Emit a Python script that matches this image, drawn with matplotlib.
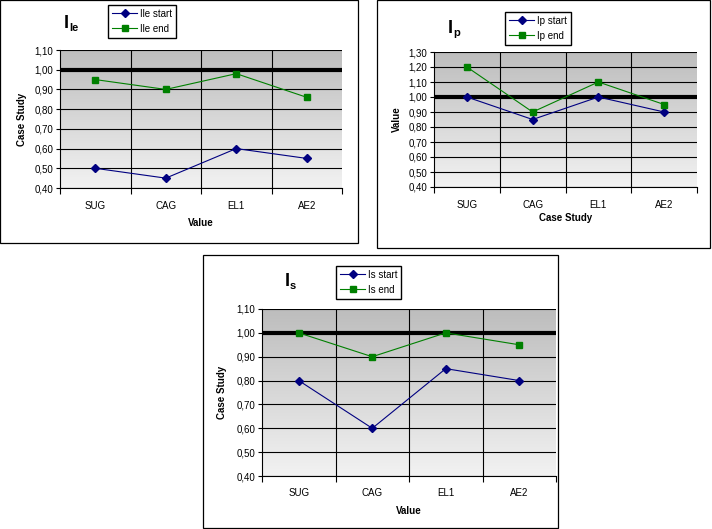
import numpy as np
import matplotlib
matplotlib.use("Agg")
import matplotlib.pyplot as plt
from matplotlib.colors import LinearSegmentedColormap
from matplotlib.patches import Rectangle
from matplotlib.ticker import FuncFormatter, FixedLocator

plt.rcParams["font.family"] = ["Liberation Sans", "DejaVu Sans"]

categories = ["SUG", "CAG", "EL1", "AE2"]

ile_start = [0.50, 0.45, 0.60, 0.55]
ile_end = [0.95, 0.90, 0.98, 0.86]

ip_start = [1.00, 0.85, 1.00, 0.90]
ip_end = [1.20, 0.90, 1.10, 0.95]

is_start = [0.80, 0.60, 0.85, 0.80]
is_end = [1.00, 0.90, 1.00, 0.95]

W, H = 712, 529
fig = plt.figure(figsize=(W / 100, H / 100), dpi=100)
fig.patch.set_facecolor("white")

grad = LinearSegmentedColormap.from_list("g", ["#bdbdbd", "#f2f2f2"])


def rect(x0, y0, x1, y1):
    return [x0 / W, 1 - y1 / H, (x1 - x0) / W, (y1 - y0) / H]


def panel(border, plot, ymax, sub, start, end, xlabel, ylabel,
          title_xy, legend_xy, xl_y, yl_x):
    bx0, by0, bx1, by1 = border
    fig.patches.append(Rectangle((bx0 / W, 1 - by1 / H), (bx1 - bx0) / W,
                                 (by1 - by0) / H, transform=fig.transFigure,
                                 fill=False, edgecolor="black", lw=0.9))
    ax = fig.add_axes(rect(*plot))
    ymin = 0.40
    x = np.arange(len(categories))
    ax.imshow(np.linspace(0, 1, 256).reshape(-1, 1), cmap=grad,
              extent=[-0.5, 3.5, ymin, ymax], aspect="auto",
              origin="upper", zorder=0)
    ax.set_xlim(-0.5, 3.5)
    ax.set_ylim(ymin, ymax)
    yt = np.round(np.arange(ymin, ymax + 0.001, 0.1), 2)
    ax.set_yticks(yt)
    ax.yaxis.set_major_formatter(FuncFormatter(lambda v, p: f"{v:.2f}".replace(".", ",")))
    ax.set_xticks(x)
    ax.set_xticklabels(categories)
    ax.xaxis.set_minor_locator(FixedLocator([-0.5, 0.5, 1.5, 2.5, 3.5]))
    ax.tick_params(axis="x", which="major", length=0, pad=9, labelsize=7)
    ax.tick_params(axis="x", which="minor", length=4, width=0.8, direction="out")
    ax.tick_params(axis="y", length=3, width=0.8, labelsize=7, pad=2)
    for v in yt:
        ax.axhline(v, color="black", lw=0.8, zorder=1)
    for v in [0.5, 1.5, 2.5]:
        ax.axvline(v, color="black", lw=0.8, zorder=1)
    ax.axhline(1.0, color="black", lw=3, zorder=2)
    for s in ["top", "right"]:
        ax.spines[s].set_visible(False)
    for s in ["left", "bottom"]:
        ax.spines[s].set_linewidth(0.8)

    l1, = ax.plot(x, start, color="#000080", lw=0.8, marker="D",
                  markersize=4, zorder=3)
    l2, = ax.plot(x, end, color="#008000", lw=0.8, marker="s",
                  markersize=5, zorder=3)

    tx, ty = title_xy
    fig.text(tx / W, 1 - ty / H, "I", fontsize=13, fontweight="bold",
             va="baseline")
    fig.text((tx + 5) / W, 1 - (ty + 3) / H, sub, fontsize=8,
             fontweight="bold", va="baseline")

    lx, ly = legend_xy
    fig.legend([l1, l2], [f"I{sub} start", f"I{sub} end"],
               loc="upper left", bbox_to_anchor=(lx / W, 1 - ly / H),
               fontsize=7, frameon=True, fancybox=False, edgecolor="black",
               framealpha=1, borderpad=0.4, handlelength=2.6,
               handletextpad=0.3, labelspacing=0.5, borderaxespad=0)

    cx = (plot[0] + plot[2]) / 2
    fig.text(cx / W, 1 - xl_y / H, xlabel, fontsize=7, fontweight="bold",
             ha="center", va="center")
    cy = (plot[1] + plot[3]) / 2
    fig.text(yl_x / W, 1 - cy / H, ylabel, fontsize=7, fontweight="bold",
             ha="center", va="center", rotation=90)


panel((0, 0, 358, 243), (60, 50, 342, 188), 1.10, "le", ile_start, ile_end,
      "Value", "Case Study", (64, 28), (108, 5), 223, 22)
panel((377, 0, 710, 248), (434, 52, 697, 187), 1.30, "p", ip_start, ip_end,
      "Case Study", "Value", (448, 33), (505, 12), 218, 397)
panel((203, 255, 558, 528), (262, 309, 556, 476), 1.10, "s", is_start, is_end,
      "Value", "Case Study", (285, 286), (336, 266), 511, 222)

fig.savefig("out.png", dpi=100)
